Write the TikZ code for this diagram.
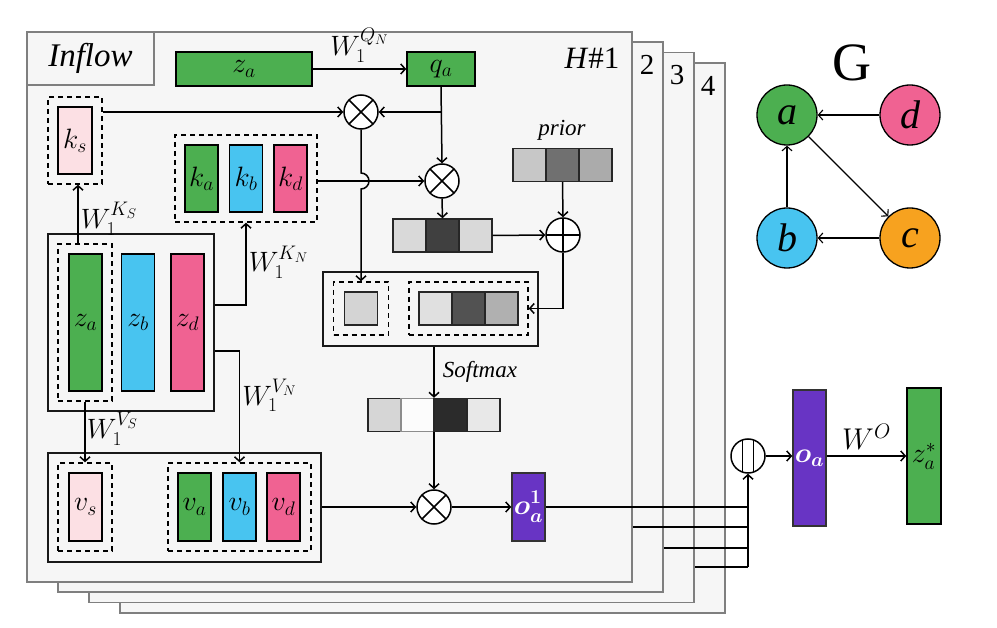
\RequirePackage{fix-cm}
\documentclass[tikz,border=0pt]{standalone}
\usepackage{amsmath}
\usepackage{fontspec}
\newfontfamily\tnr{Liberation Serif}
\usetikzlibrary{arrows.meta,calc}
\definecolor{cgreen}{HTML}{4CAF50}
\definecolor{cblue}{HTML}{48C4F0}
\definecolor{cpink}{HTML}{F06292}
\definecolor{clpink}{HTML}{FCE0E4}
\definecolor{cpurple}{HTML}{6834C4}
\definecolor{corange}{HTML}{F7A21F}
\definecolor{pfill}{HTML}{F6F6F6}
\definecolor{pborder}{HTML}{7F7F7F}
\begin{document}
\begin{tikzpicture}[x=1pt,y=-1pt,
  ln/.style={line width=1.5pt},
  ar/.style={line width=1.5pt,-{Straight Barb[length=4.5pt,width=10pt]}},
  gar/.style={line width=1.1pt,-{Straight Barb[length=4.5pt,width=10pt]}},
  bx/.style n args={2}{draw=black,line width=1.5pt,inner sep=0pt,minimum width=#1pt,minimum height=#2pt,font=\fontsize{28}{32}\selectfont},
  dbx/.style n args={2}{draw=black,line width=1.4pt,dash pattern=on 5pt off 4pt,inner sep=0pt,minimum width=#1pt,minimum height=#2pt},
  sbx/.style n args={2}{draw=black!90,line width=1.5pt,inner sep=0pt,minimum width=#1pt,minimum height=#2pt},
  cell/.style={draw=black!85,line width=1.4pt,inner sep=0pt,minimum width=33pt,minimum height=33pt,fill=#1},
  panel/.style={draw=pborder,fill=pfill,line width=1.7pt,inner sep=0pt,minimum width=605pt,minimum height=550pt},
  op/.style={circle,draw=black,line width=1.5pt,fill=white,minimum size=34pt,inner sep=0pt},
  otimes/.style={op,path picture={\draw[line width=1.5pt] (path picture bounding box.north west) -- (path picture bounding box.south east) (path picture bounding box.north east) -- (path picture bounding box.south west);}},
  oplus/.style={op,path picture={\draw[line width=1.5pt] (path picture bounding box.north) -- (path picture bounding box.south) (path picture bounding box.west) -- (path picture bounding box.east);}},
  ccat/.style={op,path picture={\draw[line width=1.5pt] ([xshift=-5.5pt]path picture bounding box.north) -- ([xshift=-5.5pt]path picture bounding box.south) ([xshift=5.5pt]path picture bounding box.north) -- ([xshift=5.5pt]path picture bounding box.south);}},
  wl/.style={inner sep=0pt,font=\fontsize{28}{30}\selectfont},
  tl/.style={inner sep=0pt,font=\tnr\itshape\fontsize{23}{25}\selectfont},
  numlbl/.style={inner sep=0pt,font=\tnr\fontsize{29}{30}\selectfont},
  gnode/.style={circle,draw=black,line width=1.3pt,minimum size=60pt,inner sep=0pt,font=\tnr\itshape\fontsize{40}{42}\selectfont}
]
\useasboundingbox (0,0) rectangle (997,628);

% stacked heads
\node[panel] (p4) at (422.5,337.9) {};
\node[panel] (p3) at (391.5,327.6) {};
\node[panel] (p2) at (360.5,317.3) {};
\node[panel] (p1) at (329.5,307) {};
\node[numlbl] (n2) at (647,65) {2};
\node[numlbl] (n3) at (677,75) {3};
\node[numlbl] (n4) at (708,86) {4};
\node[inner sep=0pt,font=\tnr\fontsize{31}{33}\selectfont] (hlbl) at (592,58) {\textit{H}\#1};

\node[draw=pborder,fill=pfill,line width=1.6pt,minimum width=127pt,minimum height=53pt,inner sep=0pt,font=\tnr\itshape\fontsize{33}{35}\selectfont] (inflow) at (90.5,58.5) {Inflow};

% query
\node[bx={136}{34},fill=cgreen] (zatop) at (244,69) {$z_a$};
\node[bx={68}{34},fill=cgreen] (qa) at (441,69) {$q_a$};
\draw[ar] (zatop.east) -- (qa.west) node[wl,midway,above=6pt] (wq) {$W_1^{Q_N}$};

% keys
\node[dbx={54}{87}] (ksdash) at (75,140.5) {};
\node[bx={34}{67},fill=clpink] (ks) at (75,140.5) {$k_s$};
\node[dbx={142}{87}] (kgroup) at (246,178.5) {};
\node[bx={33}{67},fill=cgreen] (ka) at (201.5,178.5) {$k_a$};
\node[bx={33}{67},fill=cblue] (kb) at (246,178.5) {$k_b$};
\node[bx={33}{67},fill=cpink] (kd) at (290.5,178.5) {$k_d$};

% z group
\node[sbx={166}{177}] (zbox) at (131,322.5) {};
\node[dbx={54}{157}] (zadash) at (85,322.5) {};
\node[bx={33}{137},fill=cgreen] (za) at (85.5,322.5) {$z_a$};
\node[bx={33}{137},fill=cblue] (zb) at (138,322.5) {$z_b$};
\node[bx={33}{137},fill=cpink] (zd) at (187.5,322.5) {$z_d$};

% values
\node[sbx={273}{109}] (vbox) at (184.5,507.5) {};
\node[dbx={54}{88}] (vsdash) at (85,507) {};
\node[bx={33}{68},fill=clpink] (vs) at (85.5,507) {$v_s$};
\node[dbx={143}{88}] (vgroup) at (239.5,507) {};
\node[bx={33}{68},fill=cgreen] (va) at (194.5,507) {$v_a$};
\node[bx={33}{68},fill=cblue] (vb) at (239.5,507) {$v_b$};
\node[bx={33}{68},fill=cpink] (vd) at (283.5,507) {$v_d$};

% operators
\node[otimes] (ot1) at (361,112) {};
\node[otimes] (ot2) at (442,181) {};
\node[oplus] (opl) at (563,235) {};
\node[otimes] (ot3) at (434,507) {};

% score row
\node[cell=black!15] (s1) at (409.5,235.5) {};
\node[cell=black!75] (s2) at (442.5,235.5) {};
\node[cell=black!15] (s3) at (475.5,235.5) {};
% prior row
\node[cell=black!22] (pr1) at (529.5,165) {};
\node[cell=black!56] (pr2) at (562.5,165) {};
\node[cell=black!33] (pr3) at (595.5,165) {};
\node[tl] (priorlbl) at (562,130) {prior};

% concatenated scores
\node[sbx={215}{74}] (cbox) at (430.5,309) {};
\node[dbx={55}{53}] (sdash) at (361,308.5) {};
\node[cell=black!17] (c0) at (361,308.5) {};
\node[dbx={119}{53}] (bdash) at (468.5,308.5) {};
\node[cell=black!12] (c1) at (435.5,308.5) {};
\node[cell=black!68] (c2) at (468.5,308.5) {};
\node[cell=black!31] (c3) at (501.5,308.5) {};

% softmax row
\node[cell=black!16] (sm1) at (384.5,415) {};
\node[cell=black!1,draw=black!45] (sm2) at (417.5,415) {};
\node[cell=black!83] (sm3) at (450.5,415) {};
\node[cell=black!9] (sm4) at (483.5,415) {};
\node[tl] (smlbl) at (480,372) {Softmax};

% output of head 1
\node[bx={33}{68},fill=cpurple,draw=black!80,text=white] (oa1) at (528.5,507) {$\boldsymbol{o_a^1}$};

% head aggregation
\node[ccat] (cc) at (748,456) {};
\node[bx={33}{136},fill=cpurple,draw=black!80,text=white] (oa) at (809.5,458) {$\boldsymbol{o_a}$};
\node[bx={34}{136},fill=cgreen] (zstar) at (924,456) {$z_a^*$};

% connectors
\coordinate (kst) at ($(zadash.north)+(-7,0)$);
\draw[ar] (kst) -- (kst |- ksdash.south) node[wl,pos=0.42,anchor=west,xshift=2pt] (wks) {$W_1^{K_S}$};
\draw[ar] ($(zbox.east)+(0,-17.5)$) -| (kgroup.south) node[wl,pos=0.76,anchor=west,xshift=2pt] (wkn) {$W_1^{K_N}$};
\draw[ar] ($(zbox.east)+(0,28.5)$) -| (vgroup.north) node[wl,pos=0.7,anchor=west,xshift=2pt] (wvn) {$W_1^{V_N}$};
\draw[ar] (zadash.south) -- (vsdash.north) node[wl,pos=0.45,anchor=west,xshift=1pt] (wvs) {$W_1^{V_S}$};

\draw[ar] (ksdash.east |- ot1) -- (ot1.west);
\draw[ar] (qa.south) -- (ot2.north);
\draw[ar] (qa.south |- ot1) -- (ot1.east);
\draw[ar] (kgroup.east |- ot2) -- (ot2.west);
\draw[ar] (ot1.south) -- ($(ot1 |- ot2)+(0,-8)$) arc[start angle=-90,end angle=90,radius=8] -- (sdash.north);
\draw[ar] (ot2.south) -- (s2.north);
\draw[ar] (s3.east) -- (opl.west);
\draw[ar] (pr2.south) -- (opl.north);
\draw[ar] (opl.south) |- (bdash.east);
\draw[ar] (ot3 |- cbox.south) -- (ot3 |- sm2.north);
\draw[ar] (ot3 |- sm2.south) -- (ot3.north);
\draw[ar] (vbox.east |- ot3) -- (ot3.west);
\draw[ar] (ot3.east) -- (oa1.west);

\coordinate (e2) at (p1.east |- 0,527);
\coordinate (e3) at (p2.east |- 0,548);
\coordinate (e4) at (p3.east |- 0,567);
\draw[ln] (oa1.east) -- (cc |- oa1.east);
\draw[ln] (e2) -- (cc |- e2);
\draw[ln] (e3) -- (cc |- e3);
\draw[ln] (e4) -- (cc |- e4);
\draw[ar] (cc |- e4) -- (cc.south);
\draw[ar] (cc.east) -- (cc.east -| oa.west);
\draw[ar] (oa.east |- cc) -- (zstar.west |- cc) node[midway,above=6pt,inner sep=0pt,font=\fontsize{30}{32}\selectfont] (wo) {$W^O$};

% graph G
\node[inner sep=0pt,font=\tnr\fontsize{54}{56}\selectfont] (G) at (852,63) {G};
\node[gnode,fill=cgreen] (a) at (787,115) {a};
\node[gnode,fill=cpink] (d) at (910,115) {d};
\node[gnode,fill=cblue] (b) at (787,238) {b};
\node[gnode,fill=corange] (c) at (910,238) {c};
\draw[gar] (d) -- (a);
\draw[gar] (a) -- (c);
\draw[gar] (b) -- (a);
\draw[gar] (c) -- (b);
\end{tikzpicture}
\end{document}
